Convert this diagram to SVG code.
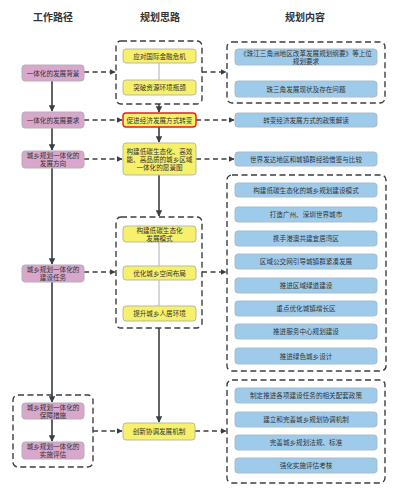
<svg xmlns="http://www.w3.org/2000/svg" width="400" height="495" viewBox="0 0 400 495">
<defs>
<marker id="ah" viewBox="0 0 10 10" refX="9" refY="5" markerWidth="4" markerHeight="4" orient="auto" markerUnits="strokeWidth">
<path d="M0,0 L10,5 L0,10 z" fill="#3a3f44"/>
</marker>
<style>
text{font-family:"Liberation Sans","Noto Sans CJK SC",sans-serif;fill:#333;text-anchor:middle;dominant-baseline:central}
.h{font-size:10px;font-weight:bold}
.t{font-size:6.6px}
.pk{fill:#d9a6cc;stroke:#b5b0b5;stroke-width:1}
.yl{fill:#f7f06b;stroke:#b9b9a0;stroke-width:1}
.rd{fill:#f7f06b;stroke:#e0201c;stroke-width:1.4}
.bl{fill:#9fcbeb;stroke:#a9bccb;stroke-width:1}
.grp{fill:none;stroke:#3a3f44;stroke-width:1.4;stroke-dasharray:6,3.5}
.sol{fill:none;stroke:#3a3f44;stroke-width:1.6;marker-end:url(#ah)}
.dsh{fill:none;stroke:#3a3f44;stroke-width:1.4;stroke-dasharray:5,3.5;marker-end:url(#ah)}
.thin{fill:none;stroke:#9a9a9a;stroke-width:0.8}
</style>
</defs>
<rect width="400" height="495" fill="#ffffff"/>
<g id="headers">
<text class="h" x="53" y="17">工作路径</text>
<text class="h" x="160" y="17">规划思路</text>
<text class="h" x="305" y="17">规划内容</text>
</g>
<g id="groups">
<rect class="grp" x="116" y="41" width="86" height="63" rx="5"/>
<rect class="grp" x="116" y="217" width="86" height="111" rx="5"/>
<rect class="grp" x="13" y="395" width="80" height="72" rx="5"/>
<rect class="grp" x="227" y="42" width="158" height="61" rx="5"/>
<rect class="grp" x="227" y="175" width="159" height="196" rx="5"/>
<rect class="grp" x="227" y="380" width="158" height="103" rx="5"/>
</g>
<g id="connectors">
<line class="thin" x1="159" y1="63" x2="159" y2="80"/>
<line class="thin" x1="159" y1="242" x2="159" y2="266"/>
<line class="thin" x1="159" y1="280" x2="159" y2="306"/>
<line class="sol" x1="52" y1="81" x2="52" y2="111"/>
<line class="sol" x1="52" y1="128" x2="52" y2="150"/>
<line class="sol" x1="52" y1="168" x2="52" y2="264"/>
<line class="sol" x1="52" y1="282" x2="52" y2="402"/>
<line class="sol" x1="52" y1="419" x2="52" y2="441"/>
<line class="sol" x1="159" y1="104" x2="159" y2="112"/>
<line class="sol" x1="159" y1="127" x2="159" y2="142"/>
<line class="sol" x1="159" y1="175" x2="159" y2="216"/>
<line class="sol" x1="159" y1="328" x2="159" y2="422"/>
<line class="dsh" x1="84" y1="72" x2="115" y2="72"/>
<line class="dsh" x1="84" y1="120" x2="122" y2="120"/>
<line class="dsh" x1="84" y1="159" x2="122" y2="159"/>
<line class="dsh" x1="84" y1="272" x2="115" y2="272"/>
<line class="dsh" x1="93" y1="431" x2="122" y2="431"/>
<line class="dsh" x1="202" y1="72" x2="226" y2="72"/>
<line class="dsh" x1="196" y1="120" x2="234" y2="120"/>
<line class="dsh" x1="196" y1="159" x2="234" y2="159"/>
<line class="dsh" x1="202" y1="272" x2="226" y2="272"/>
<line class="dsh" x1="195" y1="431" x2="226" y2="431"/>
</g>
<g id="n-left1"><rect class="pk" x="22" y="65" width="62" height="16" rx="3"/><text class="t" x="53" y="73">一体化的发展背景</text></g>
<g id="n-left2"><rect class="pk" x="22" y="112" width="62" height="16" rx="3"/><text class="t" x="53" y="120">一体化的发展要求</text></g>
<g id="n-left3"><rect class="pk" x="22" y="151" width="62" height="17" rx="3"/><text class="t" x="53" y="155.5">城乡规划一体化的</text><text class="t" x="53" y="163.5">发展方向</text></g>
<g id="n-left4"><rect class="pk" x="22" y="265" width="62" height="17" rx="3"/><text class="t" x="53" y="269.5">城乡规划一体化的</text><text class="t" x="53" y="277.5">建设任务</text></g>
<g id="n-left5"><rect class="pk" x="22" y="403" width="62" height="16" rx="3"/><text class="t" x="53" y="407">城乡规划一体化的</text><text class="t" x="53" y="415">保障措施</text></g>
<g id="n-left6"><rect class="pk" x="22" y="442" width="62" height="17" rx="3"/><text class="t" x="53" y="446.5">城乡规划一体化的</text><text class="t" x="53" y="454.5">实施评估</text></g>
<g id="n-mid1"><rect class="yl" x="123" y="49" width="73" height="14" rx="3"/><text class="t" x="159.5" y="56">应对国际金融危机</text></g>
<g id="n-mid2"><rect class="yl" x="123" y="80" width="73" height="15" rx="3"/><text class="t" x="159.5" y="87.5">突破资源环境瓶颈</text></g>
<g id="n-mid3"><rect class="rd" x="123" y="113" width="73" height="14" rx="3"/><text class="t" x="159.5" y="120">促进经济发展方式转变</text></g>
<g id="n-mid4"><rect class="yl" x="123" y="143" width="73" height="32" rx="3"/><text class="t" x="159.5" y="151">构建低碳生态化、高效</text><text class="t" x="159.5" y="159">能、高品质的城乡区域</text><text class="t" x="159.5" y="167">一体化的愿景图</text></g>
<g id="n-mid5"><rect class="yl" x="123" y="226" width="73" height="16" rx="3"/><text class="t" x="159.5" y="230">构建低碳生态化</text><text class="t" x="159.5" y="238">发展模式</text></g>
<g id="n-mid6"><rect class="yl" x="123" y="266" width="73" height="14" rx="3"/><text class="t" x="159.5" y="273">优化城乡空间布局</text></g>
<g id="n-mid7"><rect class="yl" x="123" y="306" width="73" height="15" rx="3"/><text class="t" x="159.5" y="313.5">提升城乡人居环境</text></g>
<g id="n-mid8"><rect class="yl" x="123" y="423" width="72" height="17" rx="3"/><text class="t" x="159" y="431.5">创新协调发展机制</text></g>
<g id="n-r1"><rect class="bl" x="235" y="49" width="142" height="16" rx="3"/><text class="t" x="306" y="53">《珠江三角洲地区改革发展规划纲要》等上位</text><text class="t" x="306" y="61">规划要求</text></g>
<g id="n-r2"><rect class="bl" x="235" y="81" width="142" height="16" rx="3"/><text class="t" x="306" y="89">珠三角发展现状及存在问题</text></g>
<g id="n-r3"><rect class="bl" x="235" y="113" width="142" height="14" rx="3"/><text class="t" x="306" y="120">转变经济发展方式的政策解读</text></g>
<g id="n-r4"><rect class="bl" x="235" y="152" width="142" height="14" rx="3"/><text class="t" x="306" y="159">世界发达地区和城镇群经验借鉴与比较</text></g>
<g id="n-r5"><rect class="bl" x="235" y="183" width="142" height="14" rx="3"/><text class="t" x="306" y="190">构建低碳生态化的城乡规划建设模式</text></g>
<g id="n-r6"><rect class="bl" x="235" y="207" width="142" height="15" rx="3"/><text class="t" x="306" y="214.5">打造广州、深圳世界城市</text></g>
<g id="n-r7"><rect class="bl" x="235" y="231" width="142" height="15" rx="3"/><text class="t" x="306" y="238.5">携手港澳共建宜居湾区</text></g>
<g id="n-r8"><rect class="bl" x="235" y="254" width="142" height="15" rx="3"/><text class="t" x="306" y="261.5">区域公交网引导城镇群紧凑发展</text></g>
<g id="n-r9"><rect class="bl" x="235" y="278" width="142" height="15" rx="3"/><text class="t" x="306" y="285.5">推进区域绿道建设</text></g>
<g id="n-r10"><rect class="bl" x="235" y="301" width="142" height="15" rx="3"/><text class="t" x="306" y="308.5">重点优化城镇增长区</text></g>
<g id="n-r11"><rect class="bl" x="235" y="324" width="142" height="15" rx="3"/><text class="t" x="306" y="331.5">推进服务中心规划建设</text></g>
<g id="n-r12"><rect class="bl" x="235" y="348" width="142" height="16" rx="3"/><text class="t" x="306" y="356">推进绿色城乡设计</text></g>
<g id="n-r13"><rect class="bl" x="235" y="388" width="142" height="15" rx="3"/><text class="t" x="306" y="395.5">制定推进各项建设任务的相关配套政策</text></g>
<g id="n-r14"><rect class="bl" x="235" y="412" width="142" height="15" rx="3"/><text class="t" x="306" y="419.5">建立和完善城乡规划协调机制</text></g>
<g id="n-r15"><rect class="bl" x="235" y="435" width="142" height="15" rx="3"/><text class="t" x="306" y="442.5">完善城乡规划法规、标准</text></g>
<g id="n-r16"><rect class="bl" x="235" y="458" width="142" height="15" rx="3"/><text class="t" x="306" y="465.5">强化实施评估考核</text></g>
</svg>
